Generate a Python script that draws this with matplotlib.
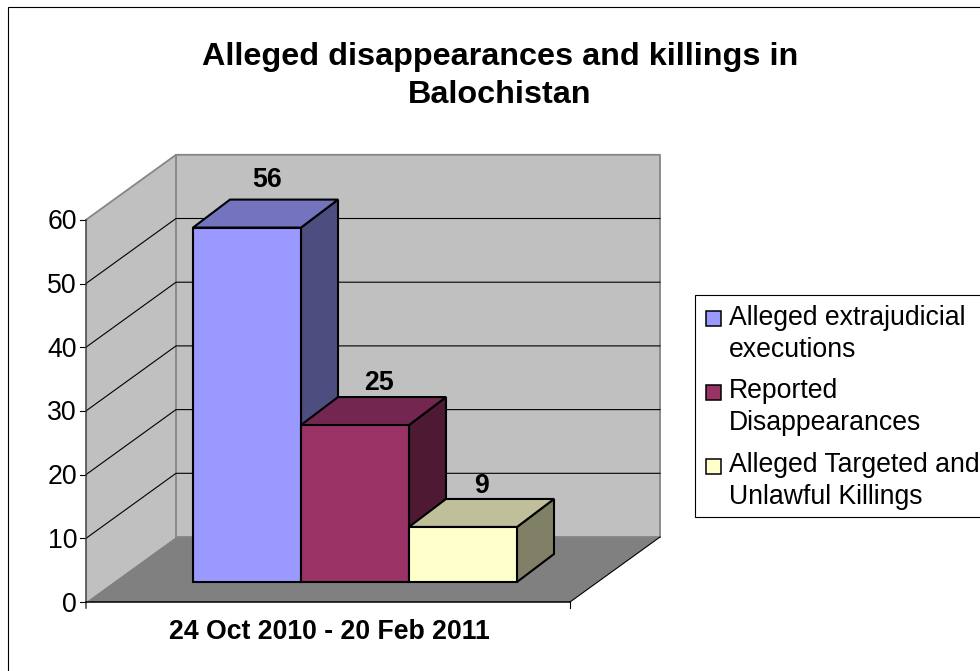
#!/usr/bin/env python3
"""Alleged disappearances and killings in Balochistan - fake-3D column chart."""

import matplotlib
matplotlib.use('Agg')
import matplotlib.pyplot as plt
from matplotlib.patches import Polygon, Rectangle

plt.rcParams['font.family'] = ['Liberation Sans', 'DejaVu Sans']

title_text = 'Alleged disappearances and killings in\nBalochistan'
period_label = '24 Oct 2010 - 20 Feb 2011'
series_names = ['Alleged extrajudicial\nexecutions', 'Reported\nDisappearances',
                'Alleged Targeted and\nUnlawful Killings']
series_values = [56, 25, 9]
series_colors = ['#9999ff', '#993366', '#ffffcc']
side_colors = ['#4d4d80', '#4d1933', '#808066']
top_colors = ['#7373bf', '#732650', '#bfbf99']
y_ticks = [0, 10, 20, 30, 40, 50, 60]

# layout in pixels, axes below cover the whole figure
X0, X1 = 86, 570
Y0 = 602
PX_PER_UNIT = 6.37
WALL_DX, WALL_DY = 90, -65
BAR_LEFT, BAR_W = 193, 108
BAR_DX, BAR_DY = 37, -28
BAR_OFFSET = -17.7  # shift of the bars' zero level into the floor
BAR_BASE = 582
TEXT_SIZE = 19.2
# data labels were placed by hand in the original, nudge each one
LABEL_NUDGE = [(20, -20), (24, -14), (18, -13)]


def val_y(v):
    return Y0 - v * PX_PER_UNIT


def poly(ax, pts, fc, ec='none', lw=0, z=1):
    ax.add_patch(Polygon(pts, closed=True, facecolor=fc, edgecolor=ec, linewidth=lw,
                         joinstyle='miter', zorder=z))


fig = plt.figure(figsize=(9.8, 6.71), dpi=100)
ax = fig.add_axes([0, 0, 1, 1])
ax.set_xlim(0, 980)
ax.set_ylim(671, 0)
ax.axis('off')

# chart area border, only top and left fall inside the picture
ax.add_patch(Rectangle((7.5, 6.5), 1000, 700, facecolor='white', edgecolor='black', linewidth=0.8, zorder=0))

ax.text(500, 76, title_text, ha='center', va='center', fontsize=23.3, fontweight='bold',
        linespacing=1.35, zorder=5)

# walls and floor
top = val_y(60)
poly(ax, [(X0, Y0), (X0, top), (X0 + WALL_DX, top + WALL_DY), (X0 + WALL_DX, Y0 + WALL_DY)], '#c0c0c0')
poly(ax, [(X0 + WALL_DX, top + WALL_DY), (X1 + WALL_DX, top + WALL_DY),
          (X1 + WALL_DX, Y0 + WALL_DY), (X0 + WALL_DX, Y0 + WALL_DY)], '#c0c0c0')
poly(ax, [(X0, Y0), (X1, Y0), (X1 + WALL_DX, Y0 + WALL_DY), (X0 + WALL_DX, Y0 + WALL_DY)], '#808080')

# wall outlines
wall_col = '#868686'
ax.plot([X0, X0 + WALL_DX, X1 + WALL_DX, X1 + WALL_DX], [top, top + WALL_DY, top + WALL_DY, Y0 + WALL_DY],
        color=wall_col, lw=1.3, zorder=2)
ax.plot([X0 + WALL_DX, X0 + WALL_DX], [top + WALL_DY, Y0 + WALL_DY], color=wall_col, lw=1.3, zorder=2)
ax.plot([X0 + WALL_DX, X1 + WALL_DX], [Y0 + WALL_DY, Y0 + WALL_DY], color=wall_col, lw=1.3, zorder=2)

# gridlines + ticks, the top one is just the wall edge
for t in y_ticks:
    y = val_y(t)
    if 0 < t < max(y_ticks):
        ax.plot([X0, X0 + WALL_DX, X1 + WALL_DX], [y, y + WALL_DY, y + WALL_DY], color='black', lw=0.8, zorder=3)
    ax.plot([X0 - 6, X0], [y, y], color='black', lw=0.8, zorder=3)
    ax.text(X0 - 9, y + 2.5, str(t), ha='right', va='center', fontsize=TEXT_SIZE, zorder=5)

# axis lines
ax.plot([X0, X0], [top, Y0 + 6], color='#404040', lw=1.1, zorder=3)
ax.plot([X0, X1], [Y0, Y0], color='black', lw=1.1, zorder=3)
ax.plot([X1, X1], [Y0, Y0 + 6], color='black', lw=0.8, zorder=3)
ax.plot([X1, X1 + WALL_DX], [Y0, Y0 + WALL_DY], color='black', lw=0.8, zorder=3)

# columns
for i, v in enumerate(series_values):
    x = BAR_LEFT + i * BAR_W
    y_top = val_y(v) + BAR_OFFSET
    z = 6 + i
    poly(ax, [(x + BAR_W, y_top), (x + BAR_W + BAR_DX, y_top + BAR_DY),
              (x + BAR_W + BAR_DX, BAR_BASE + BAR_DY), (x + BAR_W, BAR_BASE)], side_colors[i], 'black', 1.5, z)
    poly(ax, [(x, y_top), (x + BAR_W, y_top), (x + BAR_W + BAR_DX, y_top + BAR_DY), (x + BAR_DX, y_top + BAR_DY)],
         top_colors[i], 'black', 1.5, z)
    poly(ax, [(x, y_top), (x + BAR_W, y_top), (x + BAR_W, BAR_BASE), (x, BAR_BASE)], series_colors[i], 'black', 1.5, z)
    nx, ny = LABEL_NUDGE[i]
    ax.text(x + BAR_W / 2 + nx, y_top + BAR_DY + ny, str(v), ha='center', va='center', fontsize=TEXT_SIZE,
            fontweight='bold', zorder=12)

ax.text(329, 632, period_label, ha='center', va='center', fontsize=TEXT_SIZE, fontweight='bold', zorder=5)

# legend
ax.add_patch(Rectangle((695, 294.5), 300, 222, facecolor='white', edgecolor='black', linewidth=0.8, zorder=4))
for i, name in enumerate(series_names):
    y = 334 + i * 73.5
    y_box = 311 + i * 74
    ax.add_patch(Rectangle((705.5, y_box), 15, 14.5, facecolor=series_colors[i], edgecolor='black',
                           linewidth=1.1, zorder=5))
    ax.text(729, y, name, ha='left', va='center', fontsize=TEXT_SIZE, linespacing=1.3, zorder=5)

fig.savefig('out.png', dpi=100)
plt.close(fig)
